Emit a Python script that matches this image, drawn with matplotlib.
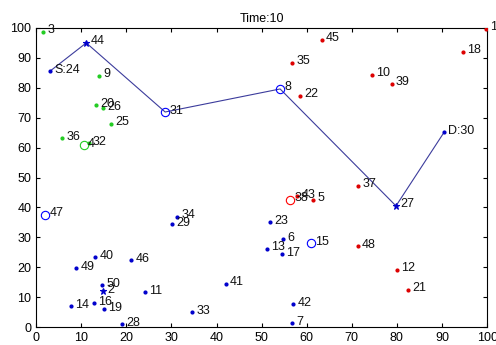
import matplotlib
matplotlib.use("Agg")
import matplotlib.pyplot as plt

plt.rcParams['font.family'] = ['Liberation Sans', 'DejaVu Sans']

# green nodes
green_ids = ["3", "9", "20", "26", "25", "36", "32"]
green_x = [1.6, 14.0, 13.3, 14.9, 16.6, 5.8, 11.6]
green_y = [98.7, 84.0, 74.2, 73.2, 67.9, 63.2, 61.5]

# red nodes
red_ids = ["45", "35", "22", "10", "39", "1", "18", "37", "48", "12", "21", "43", "5"]
red_x = [63.4, 56.8, 58.5, 74.5, 78.9, 99.8, 94.7, 71.4, 71.4, 80.0, 82.5, 57.9, 61.4]
red_y = [96.0, 88.3, 77.3, 84.3, 81.3, 99.7, 92.0, 47.2, 27.1, 19.1, 12.4, 43.8, 42.5]

# blue nodes
blue_ids = ["40", "49", "46", "50", "11", "14", "16", "19", "28", "34", "29",
            "23", "6", "13", "17", "41", "33", "42", "7"]
blue_x = [13.1, 8.9, 21.1, 14.6, 24.2, 7.8, 12.9, 15.1, 19.1, 31.3, 30.2,
          51.9, 54.8, 51.2, 54.5, 42.1, 34.6, 57.0, 56.8]
blue_y = [23.4, 19.7, 22.4, 14.0, 11.7, 7.0, 8.0, 6.0, 1.0, 36.8, 34.4,
          35.1, 29.4, 26.1, 24.4, 14.4, 5.0, 7.7, 1.3]

# circled nodes
circ_ids = ["31", "8", "47", "15", "38", "4"]
circ_x = [28.6, 54.1, 2.0, 61.0, 56.3, 10.6]
circ_y = [71.9, 79.6, 37.5, 28.1, 42.5, 60.8]
circ_col = ["b", "b", "b", "b", "r", "#22cc22"]

# star nodes
star_ids = ["44", "27", "2"]
star_x = [11.1, 79.8, 14.9]
star_y = [95.0, 40.5, 12.0]

# route
path_ids = ["S:24", "44", "31", "8", "27", "D:30"]
path_x = [3.1, 11.1, 28.6, 54.1, 79.8, 90.5]
path_y = [85.6, 95.0, 71.9, 79.6, 40.5, 65.2]

fig = plt.figure(figsize=(4.96, 3.45), dpi=100)
ax = fig.add_axes([0.073, 0.052, 0.909, 0.867])

ax.plot(path_x, path_y, color="#3c3c9c", lw=0.8, zorder=2)
ax.plot(green_x, green_y, ".", color="#22cc22", ms=4, zorder=3)
ax.plot(red_x, red_y, ".", color="#dd0000", ms=4, zorder=3)
ax.plot(blue_x, blue_y, ".", color="#0000cc", ms=4, zorder=3)
ax.plot([path_x[0], path_x[-1]], [path_y[0], path_y[-1]], ".", color="#0000cc", ms=4, zorder=3)
ax.plot(star_x, star_y, "*", color="#0000cc", ms=5, mew=0.8, zorder=3)
for x, y, c in zip(circ_x, circ_y, circ_col):
    ax.plot(x, y, "o", mfc="none", mec=c, ms=6, mew=0.8, zorder=3)

def label(ids, xs, ys):
    for t, x, y in zip(ids, xs, ys):
        ax.text(x + 0.9, y + 0.5, t, fontsize=9, va="center", ha="left", color="#111111", zorder=4)

label(green_ids, green_x, green_y)
label(red_ids, red_x, red_y)
label(blue_ids, blue_x, blue_y)
label(circ_ids, circ_x, circ_y)
label(star_ids, star_x, star_y)
label([path_ids[0], path_ids[-1]], [path_x[0], path_x[-1]], [path_y[0], path_y[-1]])

ax.set_xlim(0, 100)
ax.set_ylim(0, 100)
ax.set_xticks(range(0, 101, 10))
ax.set_yticks(range(0, 101, 10))
ax.tick_params(direction="in", top=True, right=True, labelsize=9, length=3)
ax.set_title("Time:10", fontsize=9, pad=4)

fig.savefig("out.png", dpi=100)
